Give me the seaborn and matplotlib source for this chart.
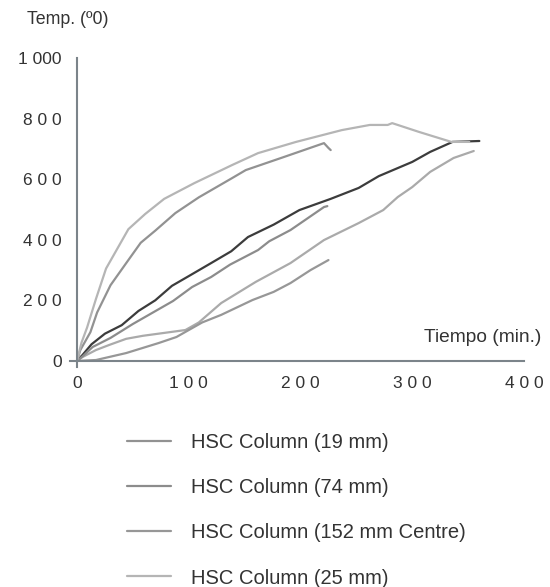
import matplotlib
matplotlib.use('Agg')
import matplotlib.pyplot as plt
import seaborn as sns

# series: time (min) and temperature
a_time = [0, 4, 9, 17, 26, 36, 46, 61, 78, 105, 139, 162, 196, 237, 262, 278, 282, 287, 306, 335, 351]
a_temp = [0, 60, 110, 205, 305, 370, 435, 485, 535, 587, 647, 686, 723, 762, 779, 779, 785, 779, 756, 723, 723]

b_time = [0, 3, 12, 18, 30, 45, 57, 70, 88, 109, 139, 151, 185, 221, 225, 227]
b_temp = [0, 36, 95, 160, 250, 328, 390, 430, 488, 540, 604, 630, 673, 719, 703, 696]

c_time = [0, 5, 13, 25, 40, 55, 70, 85, 100, 120, 138, 153, 176, 199, 227, 252, 270, 300, 316, 336, 360]
c_temp = [0, 20, 55, 90, 118, 165, 200, 248, 280, 323, 362, 409, 450, 498, 535, 571, 610, 657, 690, 723, 726]

d_time = [0, 5, 14, 30, 50, 68, 86, 103, 120, 137, 162, 172, 191, 221, 224]
d_temp = [0, 15, 46, 76, 122, 160, 198, 244, 277, 318, 366, 395, 432, 508, 511]

e_time = [0, 5, 17, 29, 44, 59, 77, 97, 109, 129, 160, 191, 221, 252, 274, 287, 300, 316, 337, 355]
e_temp = [0, 13, 36, 53, 73, 83, 92, 102, 127, 191, 261, 323, 399, 455, 498, 541, 574, 624, 670, 693]

f_time = [0, 17, 44, 73, 89, 100, 112, 129, 157, 176, 191, 209, 225]
f_temp = [0, 3, 26, 59, 79, 102, 127, 152, 201, 228, 257, 300, 333]

legend_labels = ['HSC Column (19 mm)', 'HSC Column (74 mm)',
                 'HSC Column (152 mm Centre)', 'HSC Column (25 mm)']
x_ticks = [0, 100, 200, 300, 400]
x_tick_labels = ['0', '1 0 0', '2 0 0', '3 0 0', '4 0 0']
y_ticks = [0, 200, 400, 600, 800, 1000]
y_tick_labels = ['0', '2 0 0', '4 0 0', '6 0 0', '8 0 0', '1 000']

sns.set_style('white')
plt.rcParams['font.family'] = ['Liberation Sans', 'DejaVu Sans']

axis_col = '#7b848a'
text_col = '#333333'

fig = plt.figure(figsize=(5.5, 5.87), dpi=100)
ax = fig.add_axes([0.1278, 0.3748, 0.825, 0.5264])

series = [
    (c_time, c_temp, '#3c3c3c', None),
    (e_time, e_temp, '#aaaaaa', None),
    (f_time, f_temp, '#979797', legend_labels[2]),
    (d_time, d_temp, '#8c8c8c', legend_labels[1]),
    (b_time, b_temp, '#929292', legend_labels[0]),
    (a_time, a_temp, '#b5b5b5', legend_labels[3]),
]
handles = {}
for xs, ys, col, lab in series:
    sns.lineplot(x=xs, y=ys, ax=ax, color=col, linewidth=1.6,
                 estimator=None, sort=False, legend=False)
    if lab:
        handles[lab] = ax.lines[-1]

ax.set_xlim(-6, 400)
ax.set_ylim(-20, 1000)
for side in ['top', 'right']:
    ax.spines[side].set_visible(False)
ax.spines['left'].set_position(('data', 0))
ax.spines['bottom'].set_position(('data', 0))
for side in ['left', 'bottom']:
    ax.spines[side].set_color(axis_col)
    ax.spines[side].set_linewidth(1.5)

ax.set_xticks(x_ticks, x_tick_labels)
ax.set_yticks(y_ticks, y_tick_labels)
ax.tick_params(axis='x', direction='inout', length=13, width=1.5,
               color=axis_col, labelcolor=text_col, labelsize=12.5, pad=4)
ax.tick_params(axis='y', direction='out', length=5, width=1.5,
               color=axis_col, labelcolor=text_col, labelsize=12.5, pad=6)
ax.set_xlabel('')
ax.set_ylabel('')

fig.text(27 / 550, 1 - 20 / 587, 'Temp. (º0)', ha='left', va='center',
         fontsize=12.8, color=text_col)
fig.text(541 / 550, 1 - 337 / 587, 'Tiempo (min.)', ha='right', va='center',
         fontsize=13.8, color=text_col)

leg = fig.legend([handles[l] for l in legend_labels], legend_labels,
                 loc='upper left', bbox_to_anchor=(127 / 550, 1 - 433 / 587),
                 frameon=False, fontsize=14.5, borderpad=0, borderaxespad=0,
                 handlelength=2.2, handletextpad=1.0, labelspacing=1.3)
for t in leg.get_texts():
    t.set_color(text_col)

fig.savefig('out.png', dpi=100)
